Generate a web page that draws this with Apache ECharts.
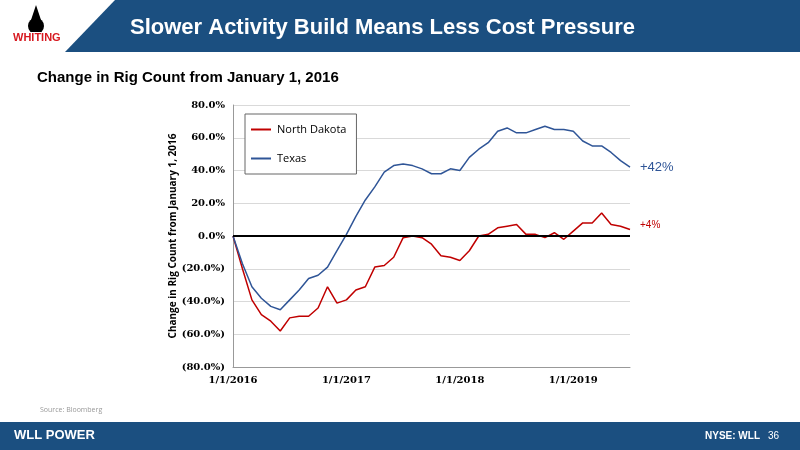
<!DOCTYPE html>
<html><head><meta charset="utf-8">
<script src="https://cdn.jsdelivr.net/npm/echarts@6/dist/echarts.min.js"></script>
<style>html,body{margin:0;padding:0;background:#fff}#c{width:800px;height:450px}</style>
</head><body><div id="c"></div>
<script>
// months since 1/1/2016
var months = [];
for (var i = 0; i <= 42; i++) months.push(i);
var xTicks = { 0: '1/1/2016', 12: '1/1/2017', 24: '1/1/2018', 36: '1/1/2019' };
var texas = [0, -17, -31, -38, -43, -45, -39, -33, -26, -24, -19, -9, 1, 12, 22, 30, 39, 43, 44, 43, 41, 38, 38, 41, 40, 48, 53, 57, 64, 66, 63, 63, 65, 67, 65, 65, 64, 58, 55, 55, 51, 46, 42];
var northDakota = [0, -20, -39, -48, -52, -58, -50, -49, -49, -44, -31, -41, -39, -33, -31, -19, -18, -13, -1, 0, -1, -5, -12, -13, -15, -9, 0, 1, 5, 6, 7, 1, 1, -1, 2, -2, 3, 8, 8, 14, 7, 6, 4];

var chart = echarts.init(document.getElementById('c'));
function pairs(arr) { return arr.map(function (v, i) { return [months[i], v]; }); }

chart.setOption({
  animation: false,
  graphic: [
    { type: 'rect', shape: { x: 0, y: 0, width: 800, height: 52 }, style: { fill: '#1b4f80' } },
    { type: 'polygon', shape: { points: [[0, 0], [115, 0], [65, 52], [0, 52]] }, style: { fill: '#fff' } },
    { type: 'circle', shape: { cx: 36, cy: 26, r: 8 }, style: { fill: '#000' } },
    { type: 'polygon', shape: { points: [[36, 5], [31, 20], [41, 20]] }, style: { fill: '#000' } },
    { type: 'text', left: 12, top: 31, style: { text: 'WHITING', fill: '#d71920', font: 'bold 11px Arial', stroke: '#fff', lineWidth: 2 } },
    { type: 'text', left: 130, top: 17, style: { text: 'Slower Activity Build Means Less Cost Pressure', fill: '#fff', font: 'bold 22px "Liberation Sans", Arial' } },
    { type: 'text', left: 37, top: 70, style: { text: 'Change in Rig Count from January 1, 2016', fill: '#000', font: 'bold 15px "Liberation Sans", Arial' } },
    { type: 'text', left: 40, top: 406, style: { text: 'Source: Bloomberg', fill: '#999', font: '7px "Open Sans"' } },
    { type: 'rect', shape: { x: 0, y: 422, width: 800, height: 28 }, style: { fill: '#1b4f80' } },
    { type: 'text', left: 14, top: 429, style: { text: 'WLL POWER', fill: '#fff', font: 'bold 13px "Liberation Sans", Arial' } },
    { type: 'text', left: 705, top: 431, style: { text: 'NYSE: WLL', fill: '#fff', font: 'bold 10px "Liberation Sans", Arial' } },
    { type: 'text', left: 768, top: 431, style: { text: '36', fill: '#fff', font: '10px "Liberation Sans", Arial' } }
  ],
  legend: {
    orient: 'vertical', left: 245, top: 114, itemGap: 18, padding: [10, 10, 10, 6],
    borderColor: '#666', borderWidth: 1, backgroundColor: '#fff',
    icon: 'path://M0,0H10V1H0Z', itemWidth: 22, itemHeight: 2,
    textStyle: { fontFamily: 'Open Sans', fontSize: 11, color: '#000' },
    data: ['North Dakota', 'Texas']
  },
  grid: { left: 233, right: 170, top: 105, bottom: 83 },
  xAxis: {
    type: 'value', min: 0, max: 42, interval: 12,
    axisLine: { show: true, onZero: false, lineStyle: { color: '#999' } },
    axisTick: { show: false }, splitLine: { show: false },
    axisLabel: { formatter: function (v) { return xTicks[v] || ''; }, color: '#000', fontFamily: 'DejaVu Serif', fontSize: 10, fontWeight: 'bold' }
  },
  yAxis: {
    type: 'value', min: -80, max: 80, interval: 20,
    name: 'Change in Rig Count from January 1, 2016', nameLocation: 'middle', nameGap: 45,
    nameTextStyle: { fontFamily: 'Open Sans', fontSize: 10, fontWeight: 'bold', color: '#000' },
    axisLine: { show: true, lineStyle: { color: '#999' } }, axisTick: { show: false },
    splitLine: { lineStyle: { color: '#d9d9d9' } },
    axisLabel: {
      color: '#000', fontFamily: 'DejaVu Serif', fontSize: 10, fontWeight: 'bold',
      formatter: function (v) { return v < 0 ? '(' + (-v).toFixed(1) + '%)' : v.toFixed(1) + '%'; }
    }
  },
  series: [
    {
      name: 'North Dakota', type: 'line', data: pairs(northDakota), showSymbol: false,
      lineStyle: { color: '#c00000', width: 1.5 }, itemStyle: { color: '#c00000' },
      endLabel: { show: true, formatter: '+4%', color: '#c00000', fontSize: 10, offset: [2, -4] },
      markLine: { silent: true, symbol: 'none', label: { show: false }, lineStyle: { color: '#000', width: 2, type: 'solid' }, data: [{ yAxis: 0 }] }
    },
    {
      name: 'Texas', type: 'line', data: pairs(texas), showSymbol: false,
      lineStyle: { color: '#2f5597', width: 1.5 }, itemStyle: { color: '#2f5597' },
      endLabel: { show: true, formatter: '+42%', color: '#2f5597', fontSize: 13, offset: [2, 0] }
    }
  ]
});
</script></body></html>
